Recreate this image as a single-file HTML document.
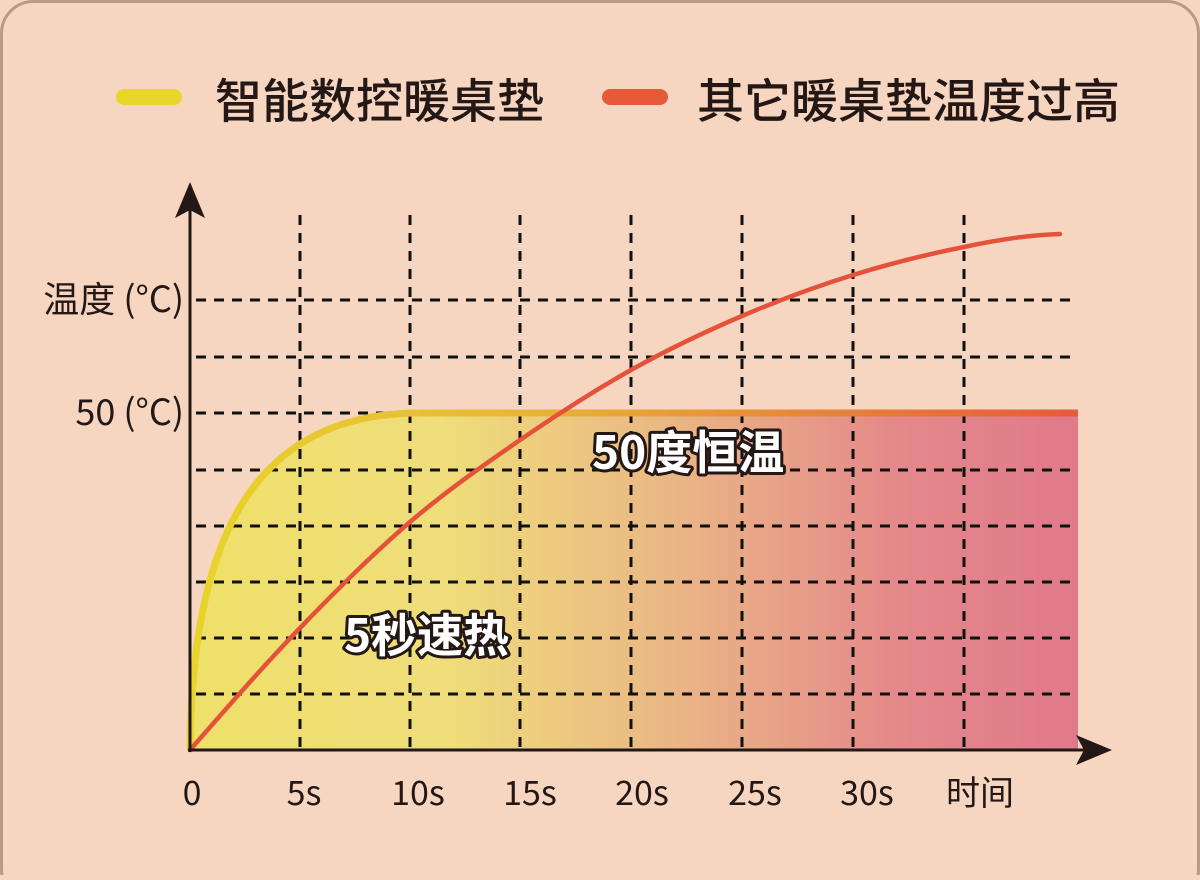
<!DOCTYPE html>
<html><head><meta charset="utf-8"><style>
html,body{margin:0;padding:0;background:#f6d6c0;}
body{width:1200px;height:875px;overflow:hidden;}
</style></head><body>
<svg width="1200" height="875" viewBox="0 0 1200 875" xmlns="http://www.w3.org/2000/svg" font-family="'Noto Sans CJK SC','Liberation Sans',sans-serif">
<defs>
<linearGradient id="fg" x1="190" y1="0" x2="1078" y2="0" gradientUnits="userSpaceOnUse">
<stop offset="0" stop-color="#efe06a"/>
<stop offset="0.28" stop-color="#efde7a"/>
<stop offset="0.55" stop-color="#eab585"/>
<stop offset="0.8" stop-color="#e4888a"/>
<stop offset="1" stop-color="#e07a8a"/>
</linearGradient>
<linearGradient id="sg" x1="190" y1="0" x2="1078" y2="0" gradientUnits="userSpaceOnUse">
<stop offset="0" stop-color="#e8d42a"/>
<stop offset="0.35" stop-color="#e8b838"/>
<stop offset="1" stop-color="#e65a3a"/>
</linearGradient>
</defs>
<rect x="1.5" y="1.5" width="1197" height="900" rx="32" fill="#f6d6c0" stroke="#b99a85" stroke-width="3"/>
<line x1="124" y1="97" x2="174" y2="97" stroke="#e8d62a" stroke-width="16" stroke-linecap="round"/>
<text x="215" y="118" font-size="47" fill="#231815" font-weight="500">智能数控暖桌垫</text>
<line x1="610" y1="97" x2="660" y2="97" stroke="#e65a3a" stroke-width="16" stroke-linecap="round"/>
<text x="697" y="118" font-size="47" fill="#231815" font-weight="500">其它暖桌垫温度过高</text>
<path d="M190,750 C192,560 240,413 420,413 L1078,413 L1078,750 Z" fill="url(#fg)"/>
<g stroke="#111" stroke-width="3" stroke-dasharray="10,8">
<line x1="300" y1="215" x2="300" y2="750"/>
<line x1="410" y1="215" x2="410" y2="750"/>
<line x1="520" y1="215" x2="520" y2="750"/>
<line x1="631" y1="215" x2="631" y2="750"/>
<line x1="742" y1="215" x2="742" y2="750"/>
<line x1="853" y1="215" x2="853" y2="750"/>
<line x1="964" y1="215" x2="964" y2="750"/>
<line x1="196" y1="300" x2="1078" y2="300"/>
<line x1="196" y1="357" x2="1078" y2="357"/>
<line x1="196" y1="413" x2="1078" y2="413"/>
<line x1="196" y1="470" x2="1078" y2="470"/>
<line x1="196" y1="526" x2="1078" y2="526"/>
<line x1="196" y1="582" x2="1078" y2="582"/>
<line x1="196" y1="638" x2="1078" y2="638"/>
<line x1="196" y1="694" x2="1078" y2="694"/>
</g>
<path d="M190,750 C192,560 240,413 420,413 L1078,413" fill="none" stroke="url(#sg)" stroke-width="7"/>
<path d="M190,750 C226.7,708 263.3,666 300,628 C336.7,590 373.3,553.3 410,522 C446.7,490.7 483.2,465.3 520,440 C557,414.7 594,390.7 631,370 C668,349.3 705,331.8 742,316 C779,300.2 816,286.5 853,275 C890,263.5 929.5,253.8 964,247 C996,240 1028,235 1060,234" fill="none" stroke="#e5523a" stroke-width="4.5" stroke-linecap="round"/>
<line x1="190" y1="752" x2="190" y2="200" stroke="#231815" stroke-width="3"/>
<path d="M190,182 L175,218 L190,210 L205,218 Z" fill="#231815"/>
<line x1="188" y1="750" x2="1095" y2="750" stroke="#231815" stroke-width="3"/>
<path d="M1112,750 L1076,735 L1084,750 L1076,765 Z" fill="#231815"/>
<g font-size="36" fill="#231815" text-anchor="end">
<text x="184" y="312">温度 (°C)</text>
<text x="184" y="425">50 (°C)</text>
</g>
<g font-size="34" fill="#231815" text-anchor="middle">
<text x="192" y="805">0</text>
<text x="304" y="805">5s</text>
<text x="418" y="805">10s</text>
<text x="530" y="805">15s</text>
<text x="642" y="805">20s</text>
<text x="755" y="805">25s</text>
<text x="867" y="805">30s</text>
<text x="980" y="805">时间</text>
</g>
<g font-size="46" font-weight="bold" fill="#fff" stroke="#231815" stroke-width="6" paint-order="stroke" stroke-linejoin="round">
<text x="592" y="469">50度恒温</text>
<text x="344" y="652">5秒速热</text>
</g>
</svg>
</body></html>
